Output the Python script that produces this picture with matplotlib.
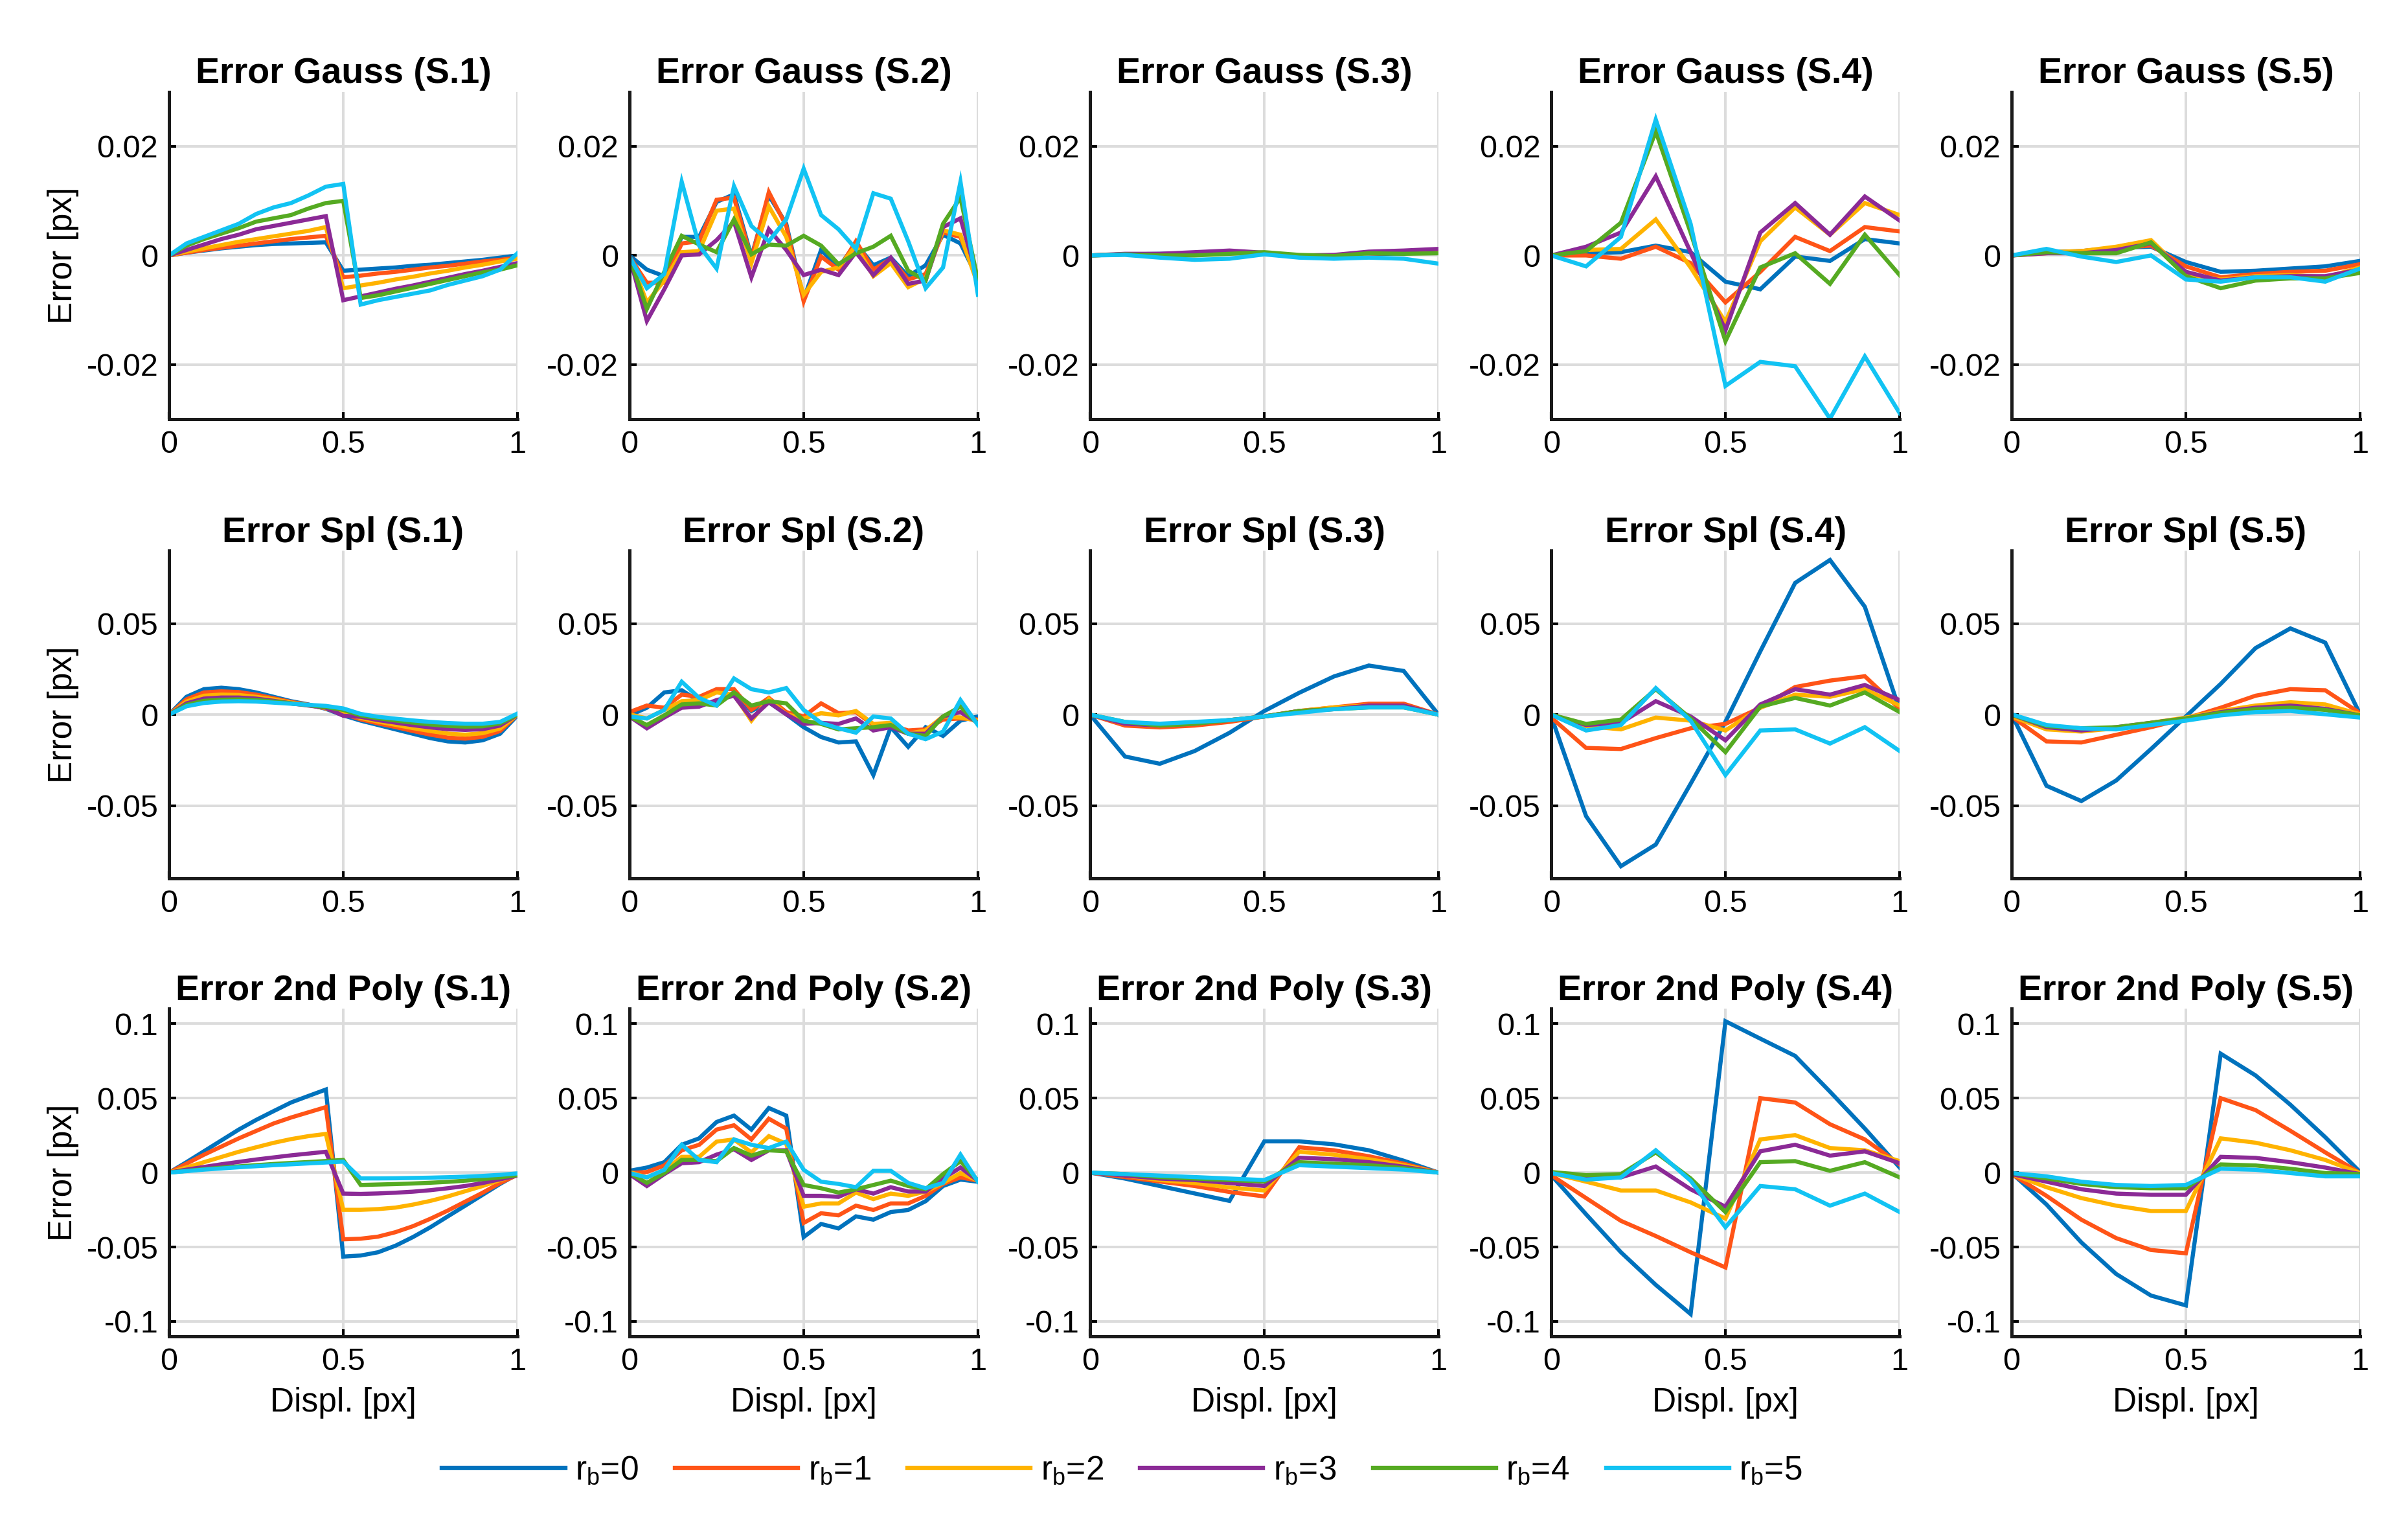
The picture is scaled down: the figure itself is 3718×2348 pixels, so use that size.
import numpy as np
import matplotlib
matplotlib.use('Agg')
import matplotlib.pyplot as plt

plt.rcParams['font.family'] = ['Liberation Sans', 'DejaVu Sans']
plt.rcParams['mathtext.default'] = 'regular'

# x positions (displacement in px)
x10 = [0, 0.1, 0.2, 0.3, 0.4, 0.5, 0.6, 0.7, 0.8, 0.9, 1.0]
x05 = [0, 0.05, 0.1, 0.15, 0.2, 0.25, 0.3, 0.35, 0.4, 0.45, 0.5,
       0.55, 0.6, 0.65, 0.7, 0.75, 0.8, 0.85, 0.9, 0.95, 1.0]

# all errors below are in 1e-3 px, one list per r_b = 0..5
gauss_s1 = [
    [0, 0.5, 0.9, 1.3, 1.6, 1.9, 2.1, 2.2, 2.3, 2.4, -2.8, -2.6, -2.4, -2.2, -1.9, -1.7, -1.4, -1.1, -0.8, -0.4, 0],
    [0, 0.5, 1.0, 1.4, 1.8, 2.2, 2.6, 3.0, 3.3, 3.6, -4.0, -3.7, -3.3, -3.0, -2.6, -2.2, -1.9, -1.5, -1.1, -0.8, -0.4],
    [0, 0.7, 1.3, 1.9, 2.5, 3.0, 3.5, 4.0, 4.5, 5.2, -6.0, -5.5, -5.0, -4.4, -3.9, -3.3, -2.8, -2.2, -1.7, -1.1, -0.6],
    [0, 1.0, 2.0, 3.0, 3.8, 4.8, 5.4, 6.0, 6.6, 7.2, -8.2, -7.5, -6.8, -6.1, -5.5, -4.8, -4.1, -3.4, -2.8, -2.1, -1.4],
    [0, 1.8, 3.0, 4.0, 5.0, 6.2, 6.8, 7.4, 8.6, 9.6, 10.0, -7.8, -7.3, -6.6, -5.9, -5.2, -4.5, -3.8, -3.1, -2.6, -1.8],
    [0, 2.2, 3.4, 4.6, 5.8, 7.6, 8.8, 9.6, 11.0, 12.6, 13.1, -9.0, -8.2, -7.6, -7.0, -6.4, -5.4, -4.6, -3.8, -2.6, 0.4],
]
gauss_s2 = [
    [0, -2.6, -3.8, 3.4, 3.4, 9.8, 11.2, -0.2, 11.0, 5.8, -8.0, 1.0, -2.2, 2.2, -1.8, -0.4, -3.8, -1.8, 3.8, 2.2, -4.2],
    [-0.2, -5.0, -5.0, 2.2, 2.6, 10.2, 10.6, -0.6, 11.6, 5.4, -8.4, -0.2, -2.6, 2.6, -2.6, -0.6, -4.4, -3.4, 4.2, 3.4, -4.8],
    [-0.2, -8.6, -4.6, 0.6, 0.8, 8.2, 8.6, -1.4, 9.0, 3.4, -7.2, -3.0, -2.2, 1.8, -3.8, -1.4, -5.8, -4.2, 4.6, 3.8, -5.4],
    [-0.2, -12.0, -6.2, 0.0, 0.2, 2.8, 6.2, -4.0, 4.8, 1.0, -3.6, -2.6, -3.6, 0.6, -3.6, -0.4, -5.2, -4.6, 5.2, 6.8, -4.4],
    [-0.2, -9.8, -3.0, 3.6, 2.0, 0.6, 6.6, 0.2, 2.0, 1.8, 3.6, 1.8, -1.6, 0.4, 1.6, 3.6, -2.8, -4.6, 5.8, 10.6, -4.6],
    [-0.2, -6.0, -3.4, 13.5, 1.8, -2.4, 12.7, 5.4, 2.6, 6.6, 15.9, 7.4, 4.8, 1.2, 11.4, 10.4, 2.6, -6.0, -2.2, 13.5, -7.2],
]
gauss_s3 = [
    [0, 0.2, 0.3, 0.4, 0.5, 0.3, -0.2, -0.3, 0.2, 0.4, 0.6],
    [0, 0.2, 0.2, 0.3, 0.4, 0.4, -0.3, -0.2, 0.3, 0.5, 0.8],
    [0, 0.2, 0.1, 0.3, 0.5, 0.4, -0.1, -0.2, 0.4, 0.6, 0.8],
    [0, 0.3, 0.3, 0.6, 0.9, 0.5, 0.0, 0.1, 0.7, 0.9, 1.2],
    [0, 0.2, 0.0, 0.0, 0.3, 0.6, 0.1, -0.1, 0.4, 0.3, 0.4],
    [0, 0.1, -0.4, -0.8, -0.6, 0.2, -0.4, -0.6, -0.4, -0.6, -1.5],
]
gauss_s4 = [
    [0, 0.4, 0.6, 1.8, 0.6, -4.8, -6.2, -0.2, -1.0, 3.0, 2.2],
    [0, 0.0, -0.6, 1.6, -1.4, -8.6, -3.0, 3.4, 0.8, 5.2, 4.4],
    [0, 1.0, 1.2, 6.6, -2.2, -12.2, 2.6, 8.8, 3.8, 9.6, 7.4],
    [0, 1.6, 4.2, 14.5, 0.6, -13.7, 4.2, 9.6, 3.8, 10.8, 6.4],
    [0, 0.8, 6.0, 22.7, 4.2, -15.7, -2.2, 0.4, -5.2, 3.8, -3.6],
    [0, -2.0, 3.4, 24.9, 5.8, -23.9, -19.5, -20.3, -29.9, -18.5, -28.9],
]
gauss_s5 = [
    [0, 0.6, 0.8, 1.4, 1.6, -1.2, -3.0, -2.8, -2.4, -2.0, -1.0],
    [0, 0.4, 0.8, 1.4, 1.8, -2.0, -4.0, -3.4, -3.0, -2.8, -1.6],
    [0, 0.6, 0.8, 1.6, 2.8, -3.4, -4.4, -3.8, -3.6, -4.0, -2.2],
    [0, 0.4, 0.4, 1.0, 2.2, -3.0, -4.6, -4.0, -3.8, -3.8, -2.6],
    [0, 0.6, 0.4, 0.4, 2.4, -3.8, -6.0, -4.6, -4.2, -4.2, -3.2],
    [0, 1.2, -0.2, -1.2, 0.0, -4.4, -4.8, -4.0, -4.0, -4.8, -2.4],
]

spl_s1 = [
    [0, 9.8, 14.0, 14.8, 14.0, 12.2, 9.8, 7.4, 5.6, 3.2, -0.4, -3.3, -5.7, -8.1, -10.5, -12.9, -14.7, -15.3, -14.1, -10.5, -0.4],
    [0, 8.4, 12.2, 12.8, 12.4, 11.0, 9.0, 7.0, 5.4, 3.4, 0.4, -2.6, -4.8, -6.8, -9.0, -11.0, -12.6, -13.2, -12.2, -9.0, 0],
    [0, 7.2, 10.4, 11.0, 10.8, 9.8, 8.4, 6.6, 5.2, 3.6, 1.0, -1.8, -3.8, -5.6, -7.4, -9.0, -10.4, -11.0, -10.2, -7.6, 0],
    [0, 6.2, 8.8, 9.4, 9.4, 8.8, 7.6, 6.2, 5.0, 3.8, -0.6, -1.2, -3.0, -4.4, -5.8, -7.0, -8.0, -8.4, -8.0, -6.0, 0],
    [0, 5.4, 7.6, 8.2, 8.4, 8.0, 7.2, 6.2, 5.2, 4.2, 2.6, -0.4, -2.0, -3.2, -4.4, -5.4, -6.2, -6.6, -6.4, -4.8, 0],
    [0, 4.6, 6.4, 7.2, 7.4, 7.2, 6.6, 6.0, 5.4, 4.8, 3.4, 0.4, -1.2, -2.2, -3.2, -4.0, -4.6, -5.0, -5.0, -4.0, 0.6],
]
spl_s2 = [
    [-0.4, 3.8, 12.2, 13.4, 7.4, 6.2, 12.2, 2.0, 6.8, 0.2, -6.9, -12.3, -15.3, -14.7, -33.2, -6.9, -17.7, -6.9, -11.7, -3.3, -1.0],
    [1.4, 5.0, 3.8, 11.0, 9.8, 14.0, 14.0, 2.6, 9.2, 1.4, -1.0, 6.2, 0.8, 1.4, -5.7, -5.7, -8.7, -8.1, -2.7, -2.1, -2.7],
    [0.2, -2.1, 2.6, 7.4, 8.0, 12.2, 11.0, -3.3, 8.6, 0.2, -2.1, 0.8, -0.4, 2.0, -5.1, -4.5, -10.5, -8.7, -1.0, -1.6, -3.3],
    [-1.0, -7.5, -1.6, 3.8, 4.4, 8.0, 10.4, -2.1, 6.8, 0.2, -5.1, -4.5, -5.1, -2.1, -8.7, -6.9, -10.5, -10.5, -1.0, 1.4, -4.5],
    [-1.0, -5.7, -0.4, 5.6, 6.2, 5.0, 12.2, 5.0, 7.4, 6.2, -3.3, -5.1, -8.1, -7.5, -6.9, -5.7, -10.5, -11.7, -1.0, 4.4, -5.1],
    [-1.0, -2.1, 2.6, 18.1, 9.2, 5.0, 19.9, 14.0, 12.2, 14.6, 2.6, -4.5, -7.5, -9.9, -1.0, -2.1, -10.5, -13.5, -9.3, 8.0, -5.7],
]
spl_s3 = [
    [0, -23, -27, -20, -10, 2, 12, 21, 27, 24, 0],
    [0, -6, -7, -6, -4, -1, 2, 4, 6, 6, 0],
    [0, -5, -6, -5, -3, -1, 2, 4, 5, 5, 0],
    [0, -5, -6, -5, -3, -1, 2, 3, 5, 5, 0],
    [0, -4, -6, -5, -3, -1, 2, 3, 4, 4, 0],
    [0, -4, -5, -4, -3, -1, 1, 3, 4, 4, 0],
]
spl_s4 = [
    [-1.0, -55.8, -83.3, -71.4, -38.0, -3.9, 34.8, 72.4, 85.0, 59.3, 2.6],
    [-1.6, -18.3, -18.9, -12.9, -7.5, -5.1, 3.8, 15.2, 18.7, 21.1, 3.2],
    [0, -6.3, -8.1, -1.6, -3.3, -8.7, 3.8, 11.0, 9.8, 14.0, 5.0],
    [0, -5.7, -4.5, 7.4, -1.0, -14.1, 5.6, 14.0, 11.0, 16.3, 8.0],
    [0, -5.1, -2.7, 14.0, -2.1, -20.6, 4.4, 9.2, 5.0, 12.2, 1.4],
    [0, -8.7, -5.7, 14.6, -3.3, -33.2, -8.7, -8.1, -15.9, -6.9, -20.0],
]
spl_s5 = [
    [0.2, -39.1, -47.5, -36.2, -18.9, -1.0, 16.9, 36.6, 47.4, 39.6, 0.2],
    [-1.0, -14.7, -15.3, -11.1, -6.9, -2.1, 3.8, 10.4, 14.0, 13.4, 0.8],
    [-1.0, -8.1, -9.3, -7.5, -4.5, -1.6, 2.0, 5.0, 6.8, 5.6, 0.2],
    [0, -6.9, -8.7, -6.9, -4.5, -2.1, 1.4, 3.8, 5.0, 3.2, -0.4],
    [0, -6.3, -7.5, -6.9, -4.5, -2.1, 1.0, 3.0, 3.8, 2.6, -0.4],
    [0.2, -5.7, -7.5, -8.1, -5.7, -3.3, -0.4, 1.4, 2.0, 0.2, -1.6],
]

poly_s1 = [
    [0, 7.0, 14.3, 21.6, 28.9, 35.4, 41.3, 47.1, 51.5, 55.8, -56.4, -55.7, -53.5, -49.1, -43.3, -36.7, -29.4, -22.2, -14.9, -7.6, -1.0],
    [0, 6.0, 12.0, 17.5, 23.0, 28.0, 33.0, 37.0, 40.5, 44.0, -44.8, -44.4, -43.0, -40.0, -36.0, -31.0, -25.5, -19.5, -13.5, -7.0, -1.5],
    [0, 3.5, 7.0, 10.5, 14.0, 17.0, 20.0, 22.5, 24.5, 26.0, -25.0, -25.0, -24.5, -23.5, -21.5, -19.0, -16.0, -12.5, -9.0, -5.0, -1.5],
    [0, 2.0, 3.8, 5.6, 7.2, 8.8, 10.2, 11.6, 12.8, 14.0, -14.1, -14.3, -14.0, -13.5, -12.8, -11.8, -10.5, -9.0, -7.0, -4.5, -2.0],
    [0, 1.2, 2.3, 3.3, 4.2, 5.0, 5.8, 6.5, 7.1, 7.8, 8.5, -8.3, -8.0, -7.7, -7.3, -6.8, -6.2, -5.4, -4.4, -3.2, -1.7],
    [0, 1.0, 2.0, 2.8, 3.6, 4.3, 5.0, 5.6, 6.2, 6.8, 7.4, -3.9, -3.9, -3.8, -3.6, -3.4, -3.1, -2.7, -2.2, -1.5, -0.5],
]
poly_s2 = [
    [1.2, 3.4, 7.0, 18.7, 23.0, 34.0, 38.3, 28.9, 43.4, 38.3, -43.3, -34.5, -37.5, -29.4, -31.6, -26.5, -25.1, -19.2, -9.0, -4.7, -6.1],
    [-0.3, 0.4, 4.8, 15.0, 18.7, 28.9, 31.8, 22.3, 36.2, 29.6, -33.8, -27.3, -28.7, -22.2, -25.1, -20.7, -20.7, -15.6, -7.6, -3.2, -5.4],
    [0.4, -3.2, 1.2, 10.6, 10.6, 20.8, 22.3, 13.6, 24.5, 19.4, -22.9, -20.7, -20.7, -13.4, -17.8, -14.1, -15.6, -12.7, -6.9, -0.3, -5.4],
    [-1.0, -9.0, -1.0, 6.3, 7.0, 12.1, 15.7, 8.5, 15.0, 15.0, -15.6, -15.6, -16.3, -11.2, -14.1, -9.8, -12.7, -12.7, -3.9, 3.4, -5.4],
    [-0.3, -6.9, -0.3, 8.5, 8.5, 7.7, 16.5, 11.4, 15.0, 14.3, -8.3, -10.5, -13.4, -11.2, -8.3, -5.4, -9.0, -11.2, -1.0, 7.7, -5.4],
    [-0.3, -3.2, 1.9, 18.7, 8.5, 7.0, 22.3, 18.7, 16.5, 20.8, 1.9, -6.1, -7.6, -9.8, 1.2, 1.2, -6.9, -10.5, -6.9, 12.1, -6.1],
]
poly_s3 = [
    [0, -4, -9, -14, -19, 21, 21, 19, 15, 8, 0],
    [0, -3, -6, -9, -13, -16, 17, 15, 11, 6, 0],
    [0, -2, -5, -7, -10, -12, 14, 12, 9, 5, 0],
    [0, -2, -4, -5, -7, -9, 10, 9, 7, 4, 0],
    [0, -1, -3, -4, -5, -6, 7, 6, 5, 3, 0],
    [0, -1, -2, -3, -4, -5, 5, 4, 3, 2, 0],
]
poly_s4 = [
    [-1.7, -28.0, -53.5, -75.4, -95.0, 101.7, 90.0, 78.4, 54.4, 29.6, 3.4],
    [-1.7, -17.1, -32.4, -42.6, -53.5, -63.7, 50.0, 47.1, 32.5, 22.3, 5.5],
    [-0.3, -6.1, -12.0, -12.0, -20.0, -30.9, 22.3, 25.2, 16.5, 15.0, 7.7],
    [-0.3, -3.9, -3.2, 4.1, -11.2, -22.9, 14.3, 18.7, 11.4, 14.3, 6.3],
    [0.4, -1.7, -1.0, 13.6, -3.9, -26.5, 7.0, 7.7, 1.2, 7.0, -3.2],
    [-0.3, -4.7, -3.2, 15.0, -5.4, -36.7, -9.0, -11.2, -22.2, -14.1, -26.5],
]
poly_s5 = [
    [-0.3, -21.4, -46.9, -68.1, -82.6, -89.2, 79.9, 65.3, 45.6, 23.8, 0.4],
    [-1.0, -15.6, -31.6, -44.0, -52.0, -54.2, 50.0, 42.0, 28.1, 13.6, -0.3],
    [-1.0, -9.8, -17.1, -22.2, -25.8, -25.8, 23.0, 20.1, 15.0, 8.5, -0.3],
    [-1.0, -6.1, -11.2, -14.1, -14.9, -14.9, 10.6, 9.9, 7.0, 3.4, -1.0],
    [-0.3, -3.9, -7.6, -9.8, -10.5, -10.5, 5.5, 4.8, 2.6, -0.3, -1.0],
    [-0.3, -2.5, -6.1, -8.3, -9.0, -8.3, 2.6, 1.9, -0.3, -2.5, -2.5],
]

row_names = ['Gauss', 'Spl', '2nd Poly']
row_data = [
    [gauss_s1, gauss_s2, gauss_s3, gauss_s4, gauss_s5],
    [spl_s1, spl_s2, spl_s3, spl_s4, spl_s5],
    [poly_s1, poly_s2, poly_s3, poly_s4, poly_s5],
]
row_ylim = [0.03, 0.09, 0.11]
row_yticks = [[-0.02, 0, 0.02], [-0.05, 0, 0.05], [-0.1, -0.05, 0, 0.05, 0.1]]
row_yticklabels = [['-0.02', '0', '0.02'], ['-0.05', '0', '0.05'],
                   ['-0.1', '-0.05', '0', '0.05', '0.1']]
legend_labels = ['r$_b$=0', 'r$_b$=1', 'r$_b$=2', 'r$_b$=3', 'r$_b$=4', 'r$_b$=5']
colors = ['#0072BD', '#FF5417', '#FFB300', '#8B2A96', '#55AA22', '#12C3F3']

fig = plt.figure(figsize=(18.59, 11.74), dpi=200)

col_left = [0.0702, 0.2614, 0.4527, 0.6442, 0.8354]
ax_w = 0.1447
row_bottom = [0.7244, 0.4225, 0.1214]
ax_h = 0.2153

handles = []
for r in range(3):
    for c in range(5):
        ax = fig.add_axes([col_left[c], row_bottom[r], ax_w, ax_h])
        series = row_data[r][c]
        for k in range(6):
            xs = x05 if len(series[k]) == 21 else x10
            ys = np.array(series[k]) * 1e-3
            ln, = ax.plot(xs, ys, color=colors[k], lw=2.3, solid_joinstyle='miter')
            if r == 0 and c == 0:
                handles.append(ln)
        ax.set_xlim(0, 1)
        ax.set_ylim(-row_ylim[r], row_ylim[r])
        ax.set_xticks([0, 0.5, 1])
        ax.set_xticklabels(['0', '0.5', '1'])
        ax.set_yticks(row_yticks[r])
        ax.set_yticklabels(row_yticklabels[r])
        ax.grid(True, color='#DCDCDC', lw=1.4)
        ax.set_axisbelow(True)
        for s in ['top', 'right']:
            ax.spines[s].set_visible(False)
        for s in ['left', 'bottom']:
            ax.spines[s].set_linewidth(1.8)
            ax.spines[s].set_color('#1A1A1A')
        ax.tick_params(direction='in', length=4, width=1.5, labelsize=17.5, pad=6)
        ax.set_title('Error %s (S.%d)' % (row_names[r], c + 1), fontsize=20,
                     fontweight='bold', pad=5)
        if c == 0:
            ax.set_ylabel('Error [px]', fontsize=18.5, labelpad=4)
        if r == 2:
            ax.set_xlabel('Displ. [px]', fontsize=18.5, labelpad=6)

fig.legend(handles, legend_labels, loc='center', bbox_to_anchor=(0.466, 0.033),
           ncol=6, frameon=False, fontsize=18.5, handlelength=3.7,
           columnspacing=1.1, handletextpad=0.3)

fig.savefig('out.png', dpi=200)
